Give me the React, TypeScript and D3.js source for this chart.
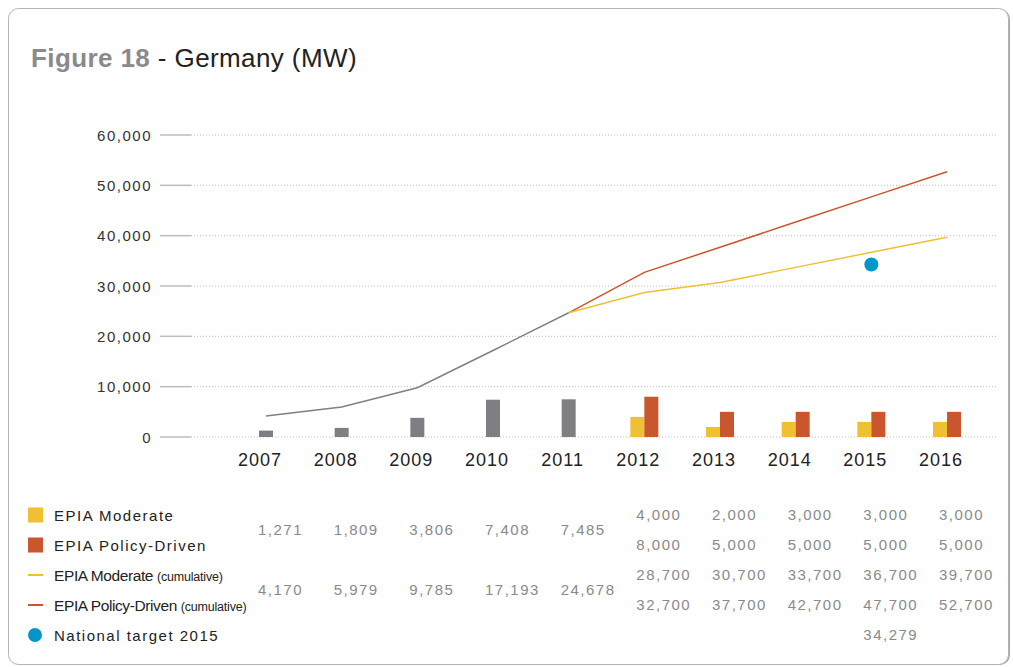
import React from "react";
import * as d3 from "d3";

const years = ["2007", "2008", "2009", "2010", "2011", "2012", "2013", "2014", "2015", "2016"];
const historicYears = ["2007", "2008", "2009", "2010", "2011"];
const forecastYears = ["2012", "2013", "2014", "2015", "2016"];
const historicAnnual = [1271, 1809, 3806, 7408, 7485];
const historicCumulative = [4170, 5979, 9785, 17193, 24678];
const moderateAnnual = [4000, 2000, 3000, 3000, 3000];
const policyAnnual = [8000, 5000, 5000, 5000, 5000];
const moderateCumulative = [28700, 30700, 33700, 36700, 39700];
const policyCumulative = [32700, 37700, 42700, 47700, 52700];
const targetYear = "2015";
const targetValue = 34279;
const yTicks = [0, 10000, 20000, 30000, 40000, 50000, 60000];

const GRAY = "#7f7f83";
const YELLOW = "#efc032";
const RED = "#c9562c";
const BLUE = "#0096cc";
const FONT = "'Liberation Sans', Arial, Helvetica, sans-serif";

export default function App() {
  const x = d3.scalePoint<string>().domain(years).range([266, 947]);
  const y = d3.scaleLinear().domain([0, 60000]).range([437, 135]);
  const fmt = d3.format(",");
  const line = d3
    .line<[string, number]>()
    .x((d) => x(d[0]) as number)
    .y((d) => y(d[1]));

  const grayPts: [string, number][] = historicYears.map((yr, i) => [yr, historicCumulative[i]]);
  const modPts: [string, number][] = [["2011", historicCumulative[4]], ...forecastYears.map((yr, i) => [yr, moderateCumulative[i]] as [string, number])];
  const polPts: [string, number][] = [["2011", historicCumulative[4]], ...forecastYears.map((yr, i) => [yr, policyCumulative[i]] as [string, number])];
  const bw = 14;

  const legendRows = [515, 545, 575, 605, 635];
  const valStyle = { fontFamily: FONT, fontSize: 15, letterSpacing: 1.5, fill: "#8a8a8a" } as const;

  return (
    <svg width={1013} height={667} style={{ position: "absolute", left: 0, top: 0 }} fontFamily={FONT}>
      <rect x={10} y={9} width={1000} height={656} rx={10} fill="#a8a8a8" />
      <rect x={8.5} y={8.5} width={1000} height={656} rx={10} fill="#fff" stroke="#b4b4b4" />

      <text x={31} y={67} fontSize={26} letterSpacing={0.4}>
        <tspan fontWeight="bold" fill="#8a8a8d">Figure 18</tspan>
        <tspan fill="#222"> - Germany (MW)</tspan>
      </text>

      {yTicks.map((t) => (
        <g key={t}>
          <line x1={160} x2={191} y1={y(t)} y2={y(t)} stroke="#bdbdbd" strokeWidth={1.5} />
          <line x1={191} x2={997} y1={y(t)} y2={y(t)} stroke="#bdbdbd" strokeWidth={1} strokeDasharray="1,2" />
          <text x={152} y={y(t) + 5.5} textAnchor="end" fontSize={15} letterSpacing={1.5} fill="#333">
            {fmt(t)}
          </text>
        </g>
      ))}

      {years.map((yr) => (
        <text key={yr} x={(x(yr) as number) - 6} y={466} textAnchor="middle" fontSize={18} letterSpacing={1} fill="#222">
          {yr}
        </text>
      ))}

      {historicYears.map((yr, i) => (
        <rect key={yr} x={(x(yr) as number) - bw / 2} y={y(historicAnnual[i])} width={bw} height={y(0) - y(historicAnnual[i])} fill={GRAY} />
      ))}
      {forecastYears.map((yr, i) => (
        <g key={yr}>
          <rect x={(x(yr) as number) - bw} y={y(moderateAnnual[i])} width={bw} height={y(0) - y(moderateAnnual[i])} fill={YELLOW} />
          <rect x={x(yr) as number} y={y(policyAnnual[i])} width={bw} height={y(0) - y(policyAnnual[i])} fill={RED} />
        </g>
      ))}

      <path d={line(polPts) as string} fill="none" stroke={RED} strokeWidth={1.5} />
      <path d={line(modPts) as string} fill="none" stroke={YELLOW} strokeWidth={1.5} />
      <path d={line(grayPts) as string} fill="none" stroke="#808080" strokeWidth={1.5} />
      <circle cx={x(targetYear) as number} cy={y(targetValue)} r={7} fill={BLUE} />

      {/* Legend */}
      <rect x={28} y={legendRows[0] - 7.5} width={15} height={15} fill={YELLOW} />
      <rect x={28} y={legendRows[1] - 7.5} width={15} height={15} fill={RED} />
      <line x1={28} x2={43} y1={legendRows[2]} y2={legendRows[2]} stroke={YELLOW} strokeWidth={2} />
      <line x1={28} x2={43} y1={legendRows[3]} y2={legendRows[3]} stroke={RED} strokeWidth={2} />
      <circle cx={35} cy={legendRows[4]} r={7} fill={BLUE} />

      <text x={54} y={legendRows[0] + 5.5} fontSize={15} letterSpacing={1.5} fill="#222">EPIA Moderate</text>
      <text x={54} y={legendRows[1] + 5.5} fontSize={15} letterSpacing={1.5} fill="#222">EPIA Policy-Driven</text>
      <text x={54} y={legendRows[2] + 5.5} fontSize={15.5} letterSpacing={-0.4} fill="#222">
        EPIA Moderate <tspan fontSize={12.5} letterSpacing={-0.2}>(cumulative)</tspan>
      </text>
      <text x={54} y={legendRows[3] + 5.5} fontSize={15.5} letterSpacing={-0.4} fill="#222">
        EPIA Policy-Driven <tspan fontSize={12.5} letterSpacing={-0.2}>(cumulative)</tspan>
      </text>
      <text x={54} y={legendRows[4] + 5.5} fontSize={15} letterSpacing={1.5} fill="#222">National target 2015</text>

      {historicYears.map((yr, i) => (
        <g key={yr}>
          <text x={(x(yr) as number) - 8} y={529 + 5.5} {...valStyle}>{fmt(historicAnnual[i])}</text>
          <text x={(x(yr) as number) - 8} y={589 + 5.5} {...valStyle}>{fmt(historicCumulative[i])}</text>
        </g>
      ))}
      {forecastYears.map((yr, i) => (
        <g key={yr}>
          <text x={(x(yr) as number) - 8} y={legendRows[0] + 5} {...valStyle}>{fmt(moderateAnnual[i])}</text>
          <text x={(x(yr) as number) - 8} y={legendRows[1] + 5} {...valStyle}>{fmt(policyAnnual[i])}</text>
          <text x={(x(yr) as number) - 8} y={legendRows[2] + 5} {...valStyle}>{fmt(moderateCumulative[i])}</text>
          <text x={(x(yr) as number) - 8} y={legendRows[3] + 5} {...valStyle}>{fmt(policyCumulative[i])}</text>
        </g>
      ))}
      <text x={(x(targetYear) as number) - 8} y={legendRows[4] + 5} {...valStyle}>{fmt(targetValue)}</text>
    </svg>
  );
}
